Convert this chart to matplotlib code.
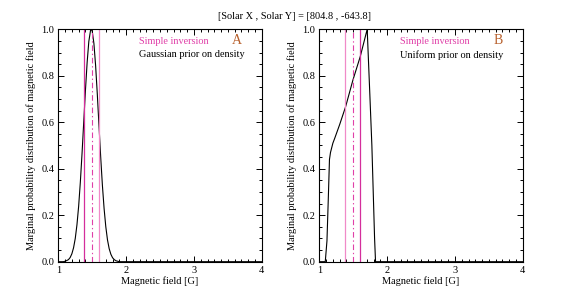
import numpy as np
import matplotlib
matplotlib.use('Agg')
import matplotlib.pyplot as plt
from matplotlib.ticker import MultipleLocator, FormatStrFormatter

plt.rcParams['font.family'] = ['Liberation Serif', 'DejaVu Serif']

# ------------------------------------------------------------
#  data
# ------------------------------------------------------------
title = '[Solar X , Solar Y] = [804.8 , -643.8]'

# panel A : Gaussian prior on density
field_a = [1.00, 1.075, 1.100, 1.125, 1.150, 1.175, 1.200, 1.225, 1.250, 1.275,
           1.300, 1.325, 1.350, 1.375, 1.400, 1.425, 1.450, 1.475, 1.486,
           1.500, 1.525, 1.550, 1.575, 1.600, 1.625, 1.650, 1.675, 1.700,
           1.725, 1.750, 1.775, 1.800, 1.825, 1.850, 1.875, 1.90, 4.00]
prob_a = [0.0, 0.0, 0.002, 0.005, 0.009, 0.018, 0.034, 0.060, 0.100, 0.159,
          0.239, 0.343, 0.466, 0.601, 0.737, 0.857, 0.948, 0.995, 1.000,
          0.992, 0.939, 0.844, 0.721, 0.585, 0.450, 0.329, 0.229, 0.151,
          0.094, 0.056, 0.032, 0.017, 0.009, 0.004, 0.002, 0.0, 0.0]

# panel B : uniform prior on density
field_b = [1.00, 1.088, 1.113, 1.132, 1.150, 1.165, 1.200, 1.226, 1.300,
           1.388, 1.496, 1.603, 1.706, 1.745, 1.775, 1.800, 1.815, 1.829, 4.00]
prob_b = [0.0, 0.0, 0.09, 0.265, 0.44, 0.47, 0.51, 0.53, 0.59,
          0.667, 0.782, 0.882, 1.000, 0.72, 0.50, 0.25, 0.10, 0.0, 0.0]

# simple inversion result (low, best, high)
simple_inv = [1.385, 1.49, 1.60]

panels = [
    ('A', 'Gaussian prior on density', field_a, prob_a, ['#d42e9c', '#f08ac8']),
    ('B', 'Uniform prior on density', field_b, prob_b, ['#f08ac8', '#d42e9c']),
]

# ------------------------------------------------------------
#  figure
# ------------------------------------------------------------
W, H = 581, 291
fig = plt.figure(figsize=(W / 100, H / 100), dpi=100)
fs = 7.4

ax_left = [58.3, 319.3]
for (tag, prior, xs, ys, cols), x0 in zip(panels, ax_left):
    ax = fig.add_axes([x0 / W, 1 - 261.7 / H, 203.5 / W, 232.4 / H])

    ax.plot(xs, ys, color='black', lw=0.8)
    ax.axvline(simple_inv[0], color=cols[0], lw=0.9)
    ax.axvline(simple_inv[2], color=cols[1], lw=0.9)
    ax.axvline(simple_inv[1], color='#e040a8', lw=0.8,
               linestyle=(0, (5, 2.5, 1.2, 2.5)))

    ax.set_xlim(1, 4)
    ax.set_ylim(0, 1.0)
    ax.xaxis.set_major_locator(MultipleLocator(1))
    ax.xaxis.set_minor_locator(MultipleLocator(0.1))
    ax.yaxis.set_major_locator(MultipleLocator(0.2))
    ax.yaxis.set_minor_locator(MultipleLocator(0.05))
    ax.yaxis.set_major_formatter(FormatStrFormatter('%.1f'))
    ax.tick_params(which='both', direction='in', top=True, right=True,
                   labelsize=fs, width=0.7, pad=3)
    ax.tick_params(which='major', length=4)
    ax.tick_params(which='minor', length=2)
    for sp in ax.spines.values():
        sp.set_linewidth(0.8)

    ax.set_xlabel('Magnetic field [G]', fontsize=fs, labelpad=1)
    ax.set_ylabel('Marginal probability distribution of magnetic field',
                  fontsize=fs, labelpad=4)

    ax.text(0.395, 0.947, 'Simple inversion', transform=ax.transAxes,
            color='#e040a8', fontsize=fs, ha='left', va='center')
    ax.text(0.395, 0.890, prior, transform=ax.transAxes,
            color='black', fontsize=fs, ha='left', va='center')
    ax.text(0.878, 0.950, tag, transform=ax.transAxes,
            color='#b8602c', fontsize=10, ha='center', va='center')

fig.text(295 / W, 1 - 16.7 / H, title, fontsize=fs, ha='center', va='center')

plt.savefig('out.png', dpi=100)
plt.close()
